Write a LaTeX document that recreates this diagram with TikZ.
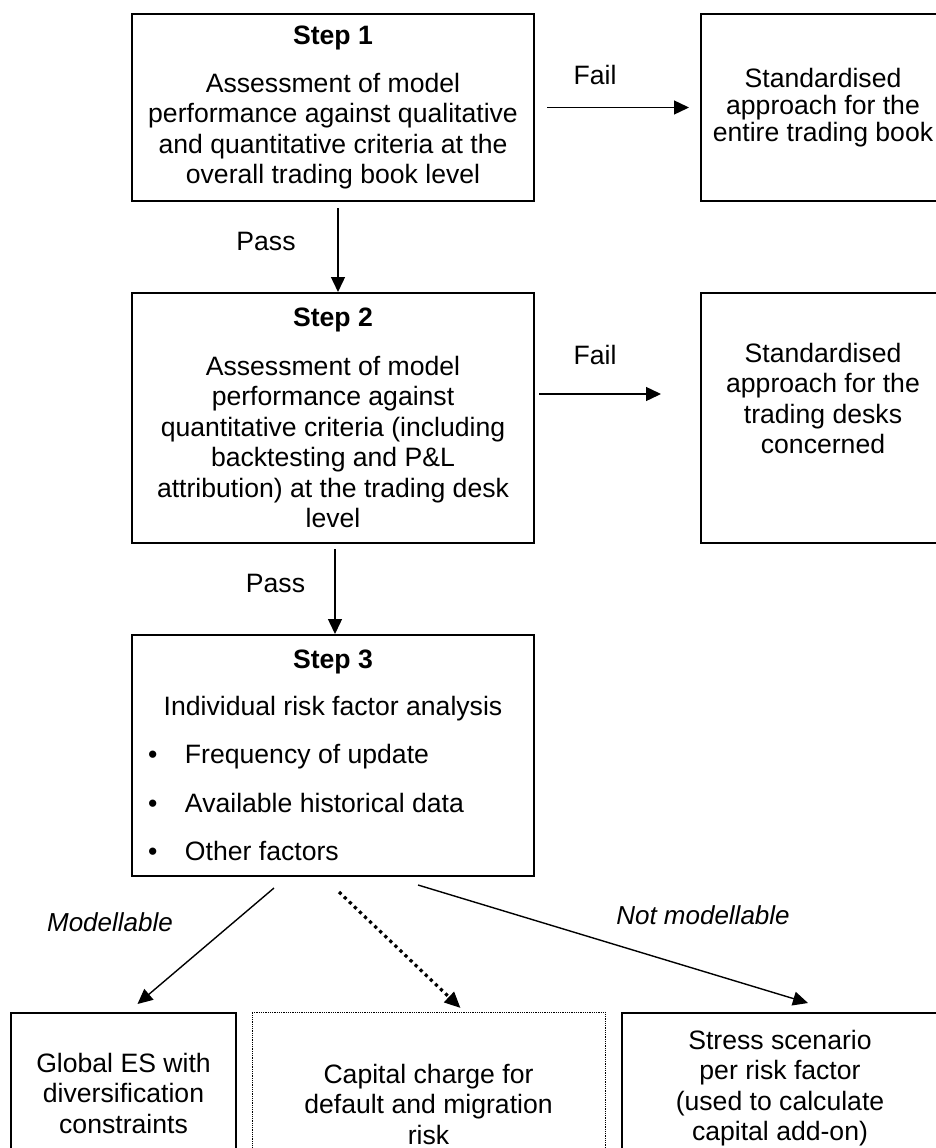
\documentclass[tikz,border=0pt]{standalone}
\usepackage{fontspec}
\setmainfont{Liberation Sans}
\usepackage{tikz}
\usetikzlibrary{arrows.meta, calc, positioning}

\tikzset{
  txt/.style={font=\fontsize{26.6}{30.5}\selectfont},
  itxt/.style={font=\fontsize{26}{30}\selectfont\itshape},
  stepbox/.style={txt, draw, line width=2pt, align=center, inner sep=0pt,
    minimum width=402pt},
  sidebox/.style={txt, draw, line width=2pt, align=center, inner sep=0pt},
  arr/.style={line width=1.4pt, -{Triangle[length=15pt,width=14pt]}},
  dotarr/.style={line width=3.2pt, dash pattern=on 3.2pt off 3.8pt,
    -{Triangle[length=16pt,width=14pt]}},
}

\newcommand{\blt}[1]{\makebox[370pt][l]{\makebox[37pt][l]{\textbullet}#1}}

\begin{document}
\begin{tikzpicture}[x=1pt, y=-1pt]
    \useasboundingbox (0,0) rectangle (936,1148);
    \clip (0,0) rectangle (936,1148);

    % main steps
    \node[stepbox, minimum height=187pt] (step1) at (333,107.5)
      {\textbf{Step 1}\\[17pt]Assessment of model\\performance against qualitative\\and quantitative criteria at the\\overall trading book level};
    \node[stepbox, minimum height=250pt] (step2) at (333,418)
      {\textbf{Step 2}\\[18pt]Assessment of model\\performance against\\quantitative criteria (including\\backtesting and P\&L\\attribution) at the trading desk\\level};
    \node[stepbox, minimum height=241pt] (step3) at (333,755.5)
      {\textbf{Step 3}\\[16pt]Individual risk factor analysis\\[18pt]\blt{Frequency of update}\\[18pt]\blt{Available historical data}\\[18pt]\blt{Other factors}};

    % standardised approach
    \node[sidebox, minimum width=244pt, minimum height=187pt,
      font=\fontsize{26.6}{27}\selectfont] (sa1) at (823,107.5)
      {Standardised\\approach for the\\entire trading book};
    \node[sidebox, minimum width=244pt, minimum height=250pt] (sa2) at (823,418)
      {Standardised\\approach for the\\trading desks\\concerned\\[9pt]\mbox{}};

    % outcomes of step 3
    \node[sidebox, anchor=north, minimum width=225pt, minimum height=160pt] (es) at (123.5,1012)
      {Global ES with\\diversification\\constraints};
    \node[sidebox, anchor=north, line width=0.8pt, densely dotted, minimum width=353pt, minimum height=184pt] (drc) at (428.5,1012)
      {Capital charge for\\default and migration\\risk};
    \node[sidebox, anchor=north, minimum width=316pt, minimum height=150pt] (ss) at (780,1012)
      {Stress scenario\\per risk factor\\(used to calculate\\capital add-on)};

    % connectors
    \draw[arr, shorten <=6pt] ([xshift=5pt]step1.south) -- ([xshift=5pt]step2.north);
    \draw[arr, shorten <=5pt] ([xshift=2pt]step2.south) -- ([xshift=2pt]step3.north);
    \draw[arr, shorten <=12pt, shorten >=11pt] (step1.east) -- (step1.east -| sa1.west);
    \draw[arr, shorten <=4pt, shorten >=39pt] ([yshift=24pt]step2.east) -- ([yshift=24pt]step2.east -| sa2.west);

    \coordinate (m0) at ($(step3.south)+(-59,11)$);
    \coordinate (d0) at ($(step3.south)+(6,15)$);
    \coordinate (n0) at ($(step3.south)+(85,8)$);
    \draw[arr] (m0) -- ($(es.north)+(14,-8)$);
    \draw[dotarr] (d0) -- ($(drc.north)+(32,-4)$);
    \draw[arr] (n0) -- ($(ss.north)+(28,-9)$);

    % labels
    \node[txt] (pass1) at (266,241) {Pass};
    \node[txt] (pass2) at (275.5,583) {Pass};
    \node[txt] (fail1) at (595,75) {Fail};
    \node[txt] (fail2) at (595,355) {Fail};
    \node[itxt] (modl) at (110,922) {Modellable};
    \node[itxt] (notmodl) at (703,915) {Not modellable};
\end{tikzpicture}
\end{document}
